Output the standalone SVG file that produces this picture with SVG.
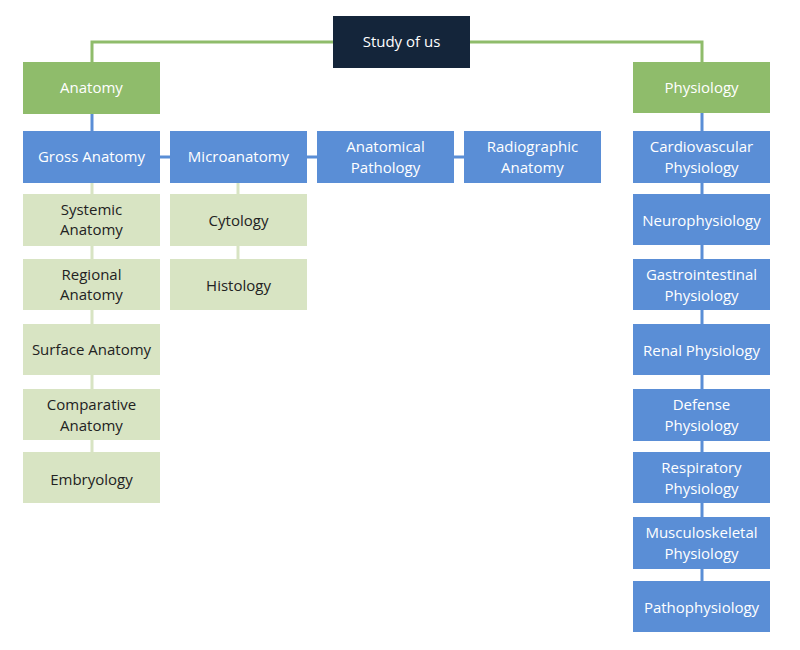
<svg xmlns="http://www.w3.org/2000/svg" width="800" height="650" viewBox="0 0 800 650">
<style>
text{font-family:"Open Sans","Noto Sans",sans-serif;font-size:15px;text-anchor:middle}
.root rect{fill:#14253a}
.green rect{fill:#8fbc6b}
.blue rect{fill:#5a8ed6}
.light rect{fill:#d8e4c3}
.root text,.green text,.blue text{fill:#ffffff}
.light text{fill:#222222}
.cg{stroke:#8fbc6b;stroke-width:3;fill:none}
.cb{stroke:#5a8ed6;stroke-width:3;fill:none}
.cl{stroke:#d8e4c3;stroke-width:3;fill:none}
</style>
<rect width="800" height="650" fill="#ffffff"/>
<g id="connectors">
<path class="cg" d="M92 62 V42 H702 V62"/>
<path class="cb" d="M92 114 V131"/>
<path class="cb" d="M160 157 H170 M307 157 H317 M454 157 H464"/>
<path class="cl" d="M92 183 V452"/>
<path class="cl" d="M238 183 V259"/>
<path class="cb" d="M702 113 V581"/>
</g>
<g id="study" class="root"><rect x="333" y="16" width="137" height="52"/><text x="401.5" y="47">Study of us</text></g>
<g id="anatomy" class="green"><rect x="23" y="62" width="137" height="52"/><text x="91.5" y="93">Anatomy</text></g>
<g id="physiology" class="green"><rect x="633" y="62" width="137" height="51"/><text x="701.5" y="93">Physiology</text></g>
<g id="gross" class="blue"><rect x="23" y="131" width="137" height="52"/><text x="91.5" y="162">Gross Anatomy</text></g>
<g id="micro" class="blue"><rect x="170" y="131" width="137" height="52"/><text x="238.5" y="162">Microanatomy</text></g>
<g id="pathology" class="blue"><rect x="317" y="131" width="137" height="52"/><text x="385.5" y="152">Anatomical</text><text x="385.5" y="173">Pathology</text></g>
<g id="radiographic" class="blue"><rect x="464" y="131" width="137" height="52"/><text x="532.5" y="152">Radiographic</text><text x="532.5" y="173">Anatomy</text></g>
<g id="systemic" class="light"><rect x="23" y="194" width="137" height="52"/><text x="91.5" y="215">Systemic</text><text x="91.5" y="235">Anatomy</text></g>
<g id="regional" class="light"><rect x="23" y="259" width="137" height="51"/><text x="91.5" y="280">Regional</text><text x="91.5" y="300">Anatomy</text></g>
<g id="surface" class="light"><rect x="23" y="324" width="137" height="51"/><text x="91.5" y="355">Surface Anatomy</text></g>
<g id="comparative" class="light"><rect x="23" y="389" width="137" height="51"/><text x="91.5" y="410">Comparative</text><text x="91.5" y="431">Anatomy</text></g>
<g id="embryology" class="light"><rect x="23" y="452" width="137" height="51"/><text x="91.5" y="485">Embryology</text></g>
<g id="cytology" class="light"><rect x="170" y="194" width="137" height="52"/><text x="238.5" y="226">Cytology</text></g>
<g id="histology" class="light"><rect x="170" y="259" width="137" height="51"/><text x="238.5" y="291">Histology</text></g>
<g id="cardio" class="blue"><rect x="633" y="131" width="137" height="52"/><text x="701.5" y="152">Cardiovascular</text><text x="701.5" y="173">Physiology</text></g>
<g id="neuro" class="blue"><rect x="633" y="194" width="137" height="51"/><text x="701.5" y="226">Neurophysiology</text></g>
<g id="gastro" class="blue"><rect x="633" y="259" width="137" height="51"/><text x="701.5" y="280">Gastrointestinal</text><text x="701.5" y="301">Physiology</text></g>
<g id="renal" class="blue"><rect x="633" y="324" width="137" height="51"/><text x="701.5" y="356">Renal Physiology</text></g>
<g id="defense" class="blue"><rect x="633" y="389" width="137" height="52"/><text x="701.5" y="410">Defense</text><text x="701.5" y="431">Physiology</text></g>
<g id="respiratory" class="blue"><rect x="633" y="452" width="137" height="51"/><text x="701.5" y="473">Respiratory</text><text x="701.5" y="494">Physiology</text></g>
<g id="musculo" class="blue"><rect x="633" y="517" width="137" height="52"/><text x="701.5" y="538">Musculoskeletal</text><text x="701.5" y="559">Physiology</text></g>
<g id="patho" class="blue"><rect x="633" y="581" width="137" height="51"/><text x="701.5" y="613">Pathophysiology</text></g>
</svg>
